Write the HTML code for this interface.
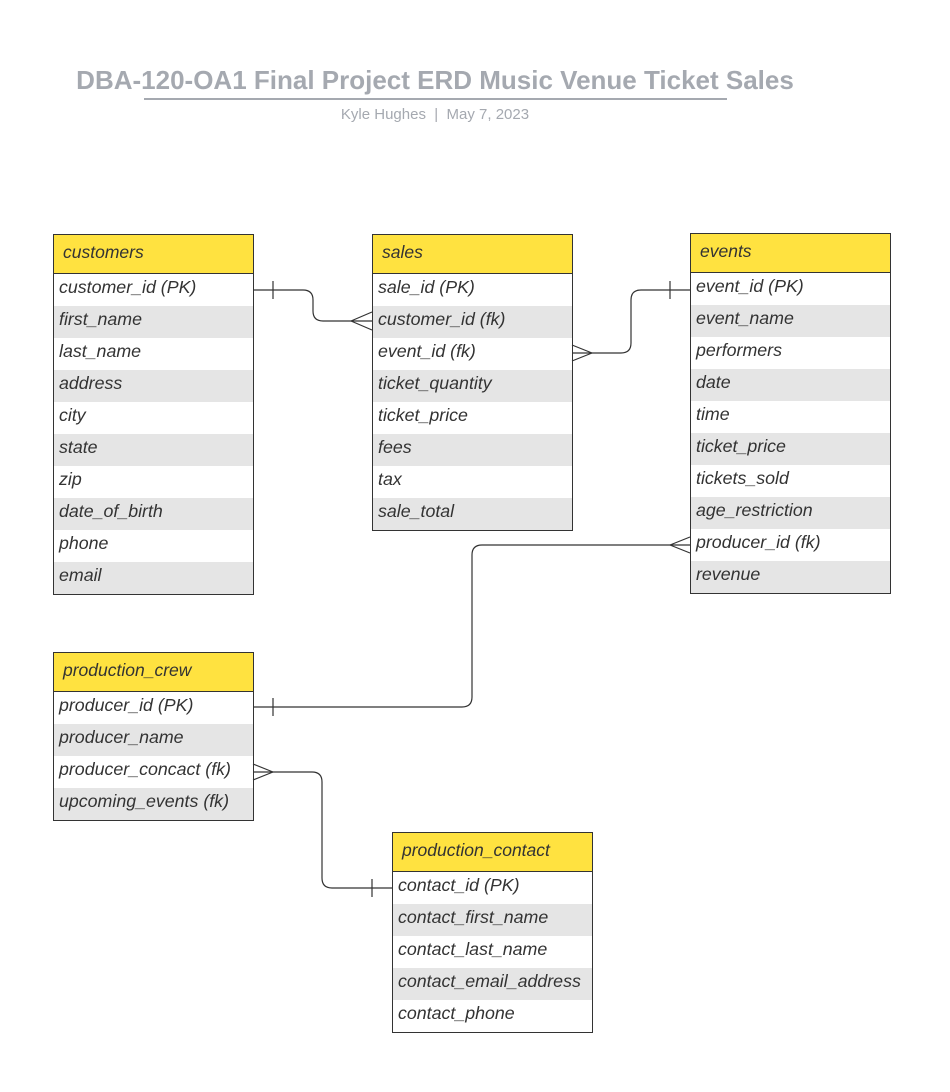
<!DOCTYPE html>
<html><head><style>
body{margin:0;width:950px;height:1092px;background:#fff;position:relative;font-family:"Liberation Sans",sans-serif;overflow:hidden}
.t{position:absolute;border:1px solid #333;box-sizing:border-box;width:201px;background:#fff}
.h{height:39px;background:#ffe240;border-bottom:1px solid #333;font-style:italic;font-size:17.5px;line-height:35px;padding-left:9px;color:#333;box-sizing:border-box}
.r{height:32px;font-style:italic;font-size:17.8px;line-height:27px;padding-left:5px;color:#333}
.r:nth-child(odd){background:#e5e5e5}
</style></head><body>
<div style="position:absolute;left:0;width:870px;top:65px;text-align:center;font-size:26px;font-weight:bold;color:#a5a9b0">DBA-120-OA1 Final Project ERD Music Venue Ticket Sales</div>
<div style="position:absolute;left:144px;width:583px;top:98px;height:2px;background:#a5a9b0"></div>
<div style="position:absolute;left:0;width:870px;top:106px;text-align:center;font-size:15px;color:#a5a9b0">Kyle Hughes &nbsp;|&nbsp; May 7, 2023</div>

<div class="t" style="left:53px;top:234px"><div class="h">customers</div>
<div class="r">customer_id (PK)</div><div class="r">first_name</div><div class="r">last_name</div><div class="r">address</div><div class="r">city</div><div class="r">state</div><div class="r">zip</div><div class="r">date_of_birth</div><div class="r">phone</div><div class="r">email</div></div>

<div class="t" style="left:372px;top:234px"><div class="h">sales</div>
<div class="r">sale_id (PK)</div><div class="r">customer_id (fk)</div><div class="r">event_id (fk)</div><div class="r">ticket_quantity</div><div class="r">ticket_price</div><div class="r">fees</div><div class="r">tax</div><div class="r">sale_total</div></div>

<div class="t" style="left:690px;top:233px"><div class="h">events</div>
<div class="r">event_id (PK)</div><div class="r">event_name</div><div class="r">performers</div><div class="r">date</div><div class="r">time</div><div class="r">ticket_price</div><div class="r">tickets_sold</div><div class="r">age_restriction</div><div class="r">producer_id (fk)</div><div class="r">revenue</div></div>

<div class="t" style="left:53px;top:652px"><div class="h">production_crew</div>
<div class="r">producer_id (PK)</div><div class="r">producer_name</div><div class="r">producer_concact (fk)</div><div class="r">upcoming_events (fk)</div></div>

<div class="t" style="left:392px;top:832px"><div class="h">production_contact</div>
<div class="r">contact_id (PK)</div><div class="r">contact_first_name</div><div class="r">contact_last_name</div><div class="r">contact_email_address</div><div class="r">contact_phone</div></div>

<svg width="950" height="1092" style="position:absolute;left:0;top:0" fill="none" stroke="#333" stroke-width="1.2">
<path d="M253 290 H303 Q313 290 313 300 V311 Q313 321 323 321 H372"/>
<path d="M273 281 V299"/>
<path d="M351 321 L372 312 M351 321 L372 330"/>
<path d="M690 290 H641 Q631 290 631 300 V343 Q631 353 621 353 H572"/>
<path d="M670 281 V299"/>
<path d="M592 353 L572 345 M592 353 L572 361"/>
<path d="M690 545 H482 Q472 545 472 555 V697 Q472 707 462 707 H253"/>
<path d="M670 545 L690 537 M670 545 L690 553"/>
<path d="M273 698 V716"/>
<path d="M253 772 H312 Q322 772 322 782 V878 Q322 888 332 888 H392"/>
<path d="M273 772 L253 764 M273 772 L253 780"/>
<path d="M372 879 V897"/>
</svg>
</body></html>
